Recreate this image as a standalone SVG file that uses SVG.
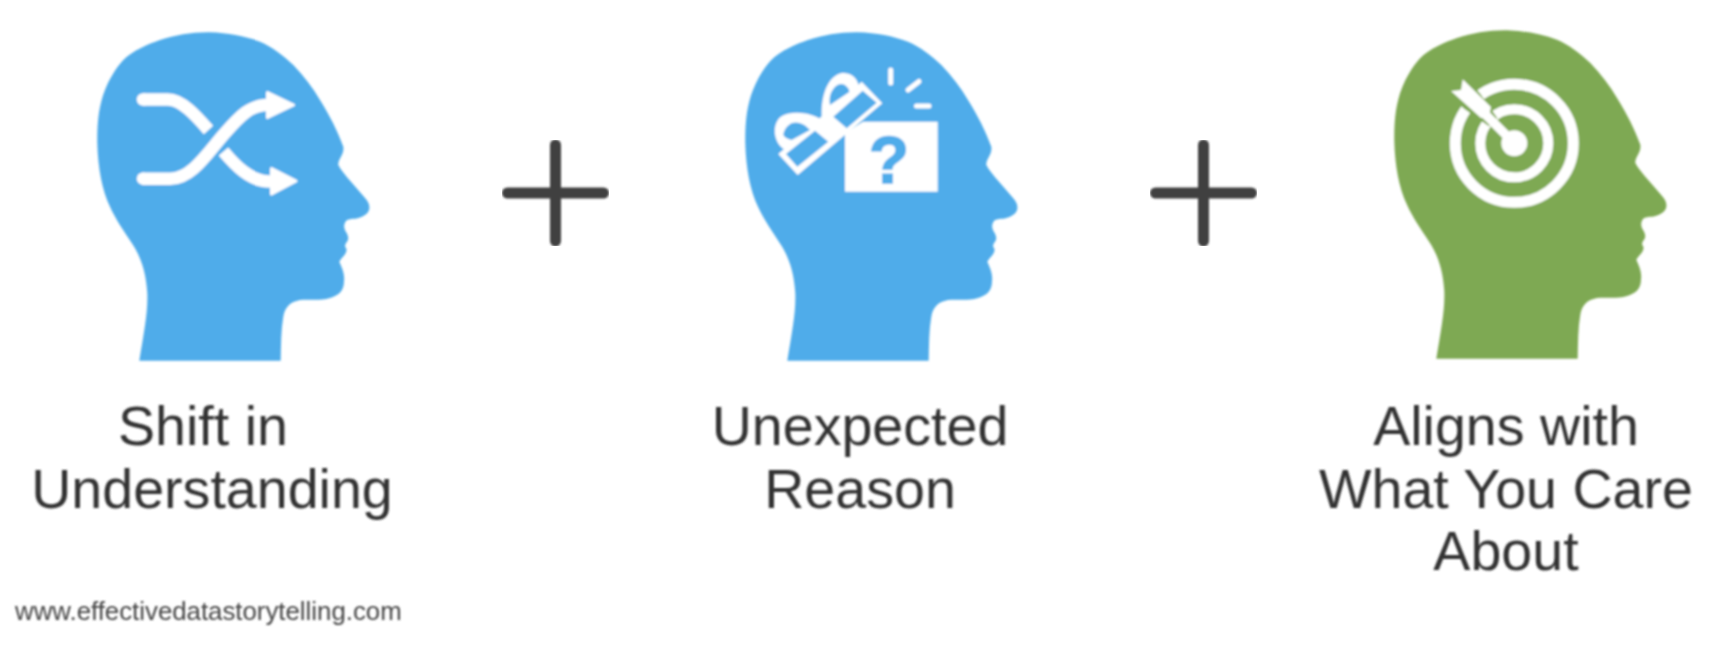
<svg xmlns="http://www.w3.org/2000/svg" width="1711" height="646" viewBox="0 0 1711 646">
<style>
.lbl{font-family:"Liberation Sans",Arial,sans-serif;font-size:55.6px;fill:#333;text-anchor:middle}
.url{font-family:"Liberation Sans",Arial,sans-serif;font-size:25.8px;fill:#444}
.blue{fill:#4facea}.green{fill:#7ea952}
.w{fill:#fff}
.ws{fill:none;stroke:#fff;stroke-width:12.5}
.ray{fill:none;stroke:#fff;stroke-width:5;stroke-linecap:round}
.plus{fill:none;stroke:#3f3f3f;stroke-width:11;stroke-linecap:round}
.soft{filter:url(#soft)}
</style>
<defs>
<filter id="soft" x="-5%" y="-5%" width="110%" height="110%"><feGaussianBlur stdDeviation="0.8"/></filter>
<path id="head" d="M139.3 360.7C144 332 148 312 147.3 293C146 272 141 257 131.7 243C124 231 116 220 110 206.7C102 190 98 168 97.3 143.3C97 122 99 105 105 90C109 80 115 69 123.3 60C132 51 148 44 160 40C176 35 192 32 210 32.3C228 33 245 36 260 41.7C272 47 283 55 293.3 65C304 76 313 88 320 100C330 116 338 132 343.3 146.7C344.5 155 338 158 338.3 165C343 174 358 189 366.7 200C371 206 370 212 365 215C358 220 352 218 347 220C343 224 344 228 345.5 231C348 235 349 238 347.5 241C344 245 345 247 346.5 249C347 254 342 257 339.3 261.7C342 268 345 274 344 281C344 290 340 295 330 298C320 301 308 299 300 300C290 302 285 307 283.3 316.7C281 330 281 345 280.7 360.7Z"/>
</defs>
<g id="head-shift" class="soft">
<use href="#head" class="blue"/>
<path class="ws" d="M142 178.7H170C192 179 208 152 225 133C240 116 250 105 268 105"/>
<path class="ws" d="M143 99.5H168C182 99.5 197 117 208.5 130"/>
<path class="ws" d="M223.5 151.500C235 165 250 181.5 270 181.5"/>
<circle class="w" cx="143" cy="99.5" r="6.25"/>
<circle class="w" cx="143" cy="178.7" r="6.25"/>
<path class="w" stroke="#fff" stroke-width="3" stroke-linejoin="round" d="M267.5 92.5L293.5 105L267.5 117.5Z"/>
<path class="w" stroke="#fff" stroke-width="3" stroke-linejoin="round" d="M271.5 168.5L296 181L271.5 194Z"/>
</g>
<g id="head-gift" class="soft">
<use href="#head" x="648" class="blue"/>
<path class="w" d="M845 133L863 121.7H937.7V191.7H845Z"/>
<text x="889" y="183" font-family="'Liberation Sans',Arial,sans-serif" font-weight="700" font-size="66" text-anchor="middle" class="blue" stroke="#4facea" stroke-width="1.5">?</text>
<path class="w" d="M778.3 154L797.7 175L882.3 103.3L861.7 81.7Z"/>
<path class="w" d="M785 150C772 142 772 122 782 116C793 110 812 113 822 120C820 100 826 78 840 73.500C852 71 860 80 859 92L825 140L800 150Z"/>
<path class="blue" d="M786 154L797.3 166.7L828.3 141.7L815 130.7ZM833.3 116.7L846.7 128.3L876.7 102.7L862.7 90.7ZM783.3 135C784 129 788 125 792 123C798 121 805 124 810 130L791.7 140C788 139 785 138 783.3 135ZM830 105C829 98 830 93 834 88C838 83 844 83 847 87C849 89 849.3 90 849.3 92Z"/>
<path class="ray" d="M890.7 70V83M908 90L919 81.5M916.5 106H929"/>
</g>
<g id="head-target" class="soft">
<use href="#head" x="1297" y="-2" class="green"/>
<circle cx="1514.3" cy="143.3" r="59" class="ws" style="stroke-width:11"/>
<circle cx="1514.3" cy="143.3" r="34" class="ws" style="stroke-width:10"/>
<path class="green" d="M1452.8 63.4L1479.7 93.1L1497.3 117.9L1488.9 126.3L1464.1 108.7L1434.4 81.8Z"/>
<circle cx="1514.3" cy="143.3" r="13" class="w"/>
<path d="M1514 143L1478 107" fill="none" stroke="#fff" stroke-width="9"/>
<path class="w" d="M1462.7 79.3L1491 107L1489 116L1481 118L1451 91L1461 90Z"/>
</g>
<g id="plus-1" class="soft"><path class="plus" d="M555.5 145V241M507.5 193H603.5"/></g>
<g id="plus-2" class="soft"><path class="plus" d="M1203.5 145V241M1155.5 193H1251.5"/></g>
<g id="label-1" class="soft"><text class="lbl" x="203" y="445">Shift in</text><text class="lbl" x="212" y="508">Understanding</text></g>
<g id="label-2" class="soft"><text class="lbl" x="860" y="445">Unexpected</text><text class="lbl" x="860" y="508">Reason</text></g>
<g id="label-3" class="soft"><text class="lbl" x="1506" y="445">Aligns with</text><text class="lbl" x="1506" y="508">What You Care</text><text class="lbl" x="1506" y="570">About</text></g>
<g id="source" class="soft"><text class="url" x="15" y="620">www.effectivedatastorytelling.com</text></g>
</svg>
